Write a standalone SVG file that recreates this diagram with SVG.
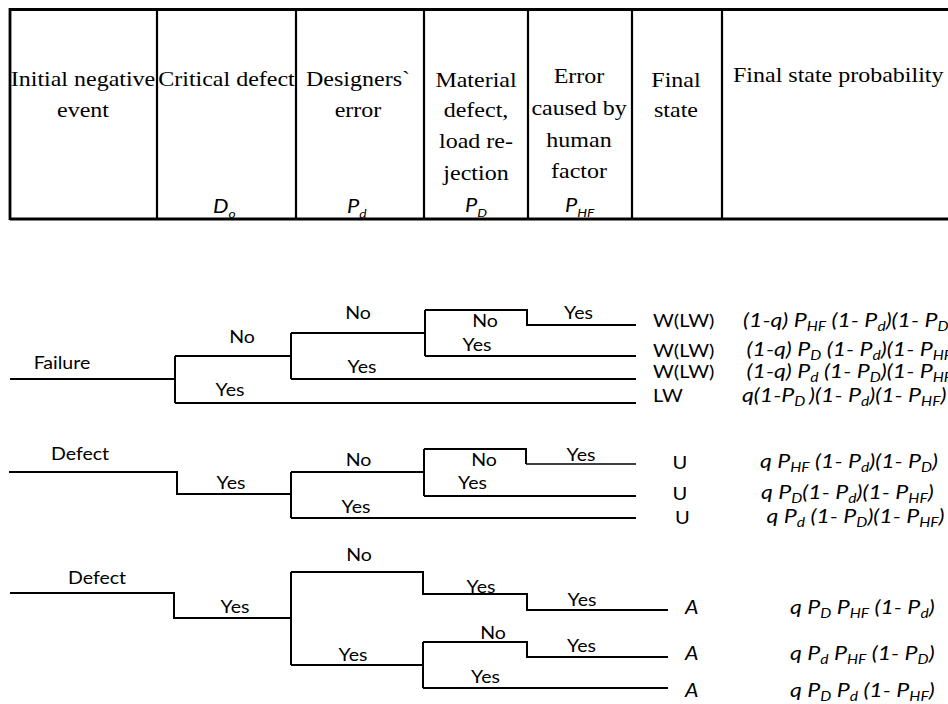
<svg xmlns="http://www.w3.org/2000/svg" width="948" height="704" viewBox="0 0 948 704">
<style>
.bg{fill:#fff}
.tl{stroke:#000;stroke-width:2.2;fill:none}
.tb{stroke:#000;stroke-width:2.8;fill:none}
.cn{stroke:#000;stroke-width:2;fill:none}
.thin{stroke:#000;stroke-width:1.4;fill:none}
.hd{font-family:'Liberation Serif','DejaVu Serif','Noto Serif',serif;font-size:20px;fill:#000;text-anchor:middle}
.hs{font-family:Lato,'Liberation Sans',sans-serif;font-style:italic;font-size:19px;fill:#000}
.lb{font-family:Lato,'Liberation Sans',sans-serif;font-size:17px;fill:#000;text-anchor:middle}
.st{font-family:Lato,'Liberation Sans',sans-serif;font-size:17.5px;fill:#000}
.fm{font-family:Lato,'Liberation Sans',sans-serif;font-style:italic;font-size:18.5px;fill:#000}
.sb{font-size:12.5px}
.hsb{font-size:12px}
</style>
<rect class="bg" x="0" y="0" width="948" height="704"/>

<g id="table">
  <path class="tb" d="M10 9.5 H948 M10 219 H948 M10 8 V220"/>
  <path class="tl" d="M157 9 V219 M296 9 V219 M424 9 V219 M528 9 V219 M632 9 V219 M722 9 V219"/>
</g>

<g id="header-text">
<g id="col-initial">
  <text class="hd" transform="translate(83 86) scale(1.2 1)">Initial negative</text>
  <text class="hd" transform="translate(83 117) scale(1.2 1)">event</text>
</g>
<g id="col-critical">
  <text class="hd" transform="translate(226.5 86) scale(1.2 1)">Critical defect</text>
  <text class="hs" transform="translate(213 213) scale(1.15 1)">D<tspan class="hsb" dy="5">o</tspan></text>
</g>
<g id="col-designers">
  <text class="hd" transform="translate(358 86) scale(1.2 1)">Designers`</text>
  <text class="hd" transform="translate(358 117) scale(1.2 1)">error</text>
  <text class="hs" transform="translate(347 213) scale(1.15 1)">P<tspan class="hsb" dy="5">d</tspan></text>
</g>
<g id="col-material">
  <text class="hd" transform="translate(476 86.5) scale(1.2 1)">Material</text>
  <text class="hd" transform="translate(476 117) scale(1.2 1)">defect,</text>
  <text class="hd" transform="translate(476 148) scale(1.2 1)">load re-</text>
  <text class="hd" transform="translate(476 180) scale(1.2 1)">jection</text>
  <text class="hs" transform="translate(465 212) scale(1.15 1)">P<tspan class="hsb" dy="5">D</tspan></text>
</g>
<g id="col-human">
  <text class="hd" transform="translate(579 82.5) scale(1.2 1)">Error</text>
  <text class="hd" transform="translate(579 115) scale(1.2 1)">caused by</text>
  <text class="hd" transform="translate(579 146.5) scale(1.2 1)">human</text>
  <text class="hd" transform="translate(579 178) scale(1.2 1)">factor</text>
  <text class="hs" transform="translate(565 212) scale(1.15 1)">P<tspan class="hsb" dy="5">HF</tspan></text>
</g>
<g id="col-final">
  <text class="hd" transform="translate(676 86.5) scale(1.2 1)">Final</text>
  <text class="hd" transform="translate(676 116.5) scale(1.2 1)">state</text>
</g>
<g id="col-probability">
  <text class="hd" style="text-anchor:start" transform="translate(733 81.5) scale(1.2 1)">Final state probability</text>
</g>
</g>

<g id="connectors">
  <path class="cn" d="M10 379 H175 M175 356 V403 M175 356 H291 M291 333 V379 M291 333 H425 M425 310 V356 M425 310 H527 V325 H636 M425 356 H636 M291 379 H636 M175 403 H636"/>
  <path class="cn" d="M9 472 H177 V494 H291 M291 472 V518 M291 472 H424 M424 449 V496 M424 449 H526 V464 M424 496 H636 M291 518 H636"/>
  <path class="thin" d="M526 464 H636"/>
  <path class="cn" d="M10 593 H174 V618 H291 M291 572 V665 M291 572 H423 V594 H527 V610 H668 M291 665 H423 M423 642 V688 M423 642 H527 V657 H668 M423 688 H668"/>
</g>

<g id="tree1-labels">
  <text class="lb" transform="translate(62 369) scale(1.15 1)">Failure</text>
  <text class="lb" transform="translate(242 343) scale(1.15 1)">No</text>
  <text class="lb" transform="translate(358 319) scale(1.15 1)">No</text>
  <text class="lb" transform="translate(485 327) scale(1.15 1)">No</text>
  <text class="lb" transform="translate(578.5 319) scale(1.15 1)">Yes</text>
  <text class="lb" transform="translate(477 351) scale(1.15 1)">Yes</text>
  <text class="lb" transform="translate(362 373) scale(1.15 1)">Yes</text>
  <text class="lb" transform="translate(230 396) scale(1.15 1)">Yes</text>
</g>
<g id="tree2-labels">
  <text class="lb" transform="translate(80 460) scale(1.15 1)">Defect</text>
  <text class="lb" transform="translate(231 489) scale(1.15 1)">Yes</text>
  <text class="lb" transform="translate(358.5 466) scale(1.15 1)">No</text>
  <text class="lb" transform="translate(484 466) scale(1.15 1)">No</text>
  <text class="lb" transform="translate(581 461) scale(1.15 1)">Yes</text>
  <text class="lb" transform="translate(472.5 489) scale(1.15 1)">Yes</text>
  <text class="lb" transform="translate(356 513) scale(1.15 1)">Yes</text>
</g>
<g id="tree3-labels">
  <text class="lb" transform="translate(97 584) scale(1.15 1)">Defect</text>
  <text class="lb" transform="translate(235 613) scale(1.15 1)">Yes</text>
  <text class="lb" transform="translate(359 561) scale(1.15 1)">No</text>
  <text class="lb" transform="translate(481 593) scale(1.15 1)">Yes</text>
  <text class="lb" transform="translate(582 606) scale(1.15 1)">Yes</text>
  <text class="lb" transform="translate(353 661) scale(1.15 1)">Yes</text>
  <text class="lb" transform="translate(493 639) scale(1.15 1)">No</text>
  <text class="lb" transform="translate(581.5 652) scale(1.15 1)">Yes</text>
  <text class="lb" transform="translate(485.5 683) scale(1.15 1)">Yes</text>
</g>

<g id="state-1"><text class="st" transform="translate(653 327) scale(1.15 1)">W(LW)</text><text class="fm" transform="translate(743 327) scale(1.25 1)">(1-q) P<tspan class="sb" dy="4">HF</tspan><tspan dy="-4"> (1- P</tspan><tspan class="sb" dy="4">d</tspan><tspan dy="-4">)(1- P</tspan><tspan class="sb" dy="4">D</tspan><tspan dy="-4">)</tspan></text></g>
<g id="state-2"><text class="st" transform="translate(653 356.5) scale(1.15 1)">W(LW)</text><text class="fm" transform="translate(746.5 356) scale(1.25 1)">(1-q) P<tspan class="sb" dy="4">D</tspan><tspan dy="-4"> (1- P</tspan><tspan class="sb" dy="4">d</tspan><tspan dy="-4">)(1- P</tspan><tspan class="sb" dy="4">HF</tspan><tspan dy="-4">)</tspan></text></g>
<g id="state-3"><text class="st" transform="translate(653 378) scale(1.15 1)">W(LW)</text><text class="fm" transform="translate(746.5 377.5) scale(1.25 1)">(1-q) P<tspan class="sb" dy="4">d</tspan><tspan dy="-4"> (1- P</tspan><tspan class="sb" dy="4">D</tspan><tspan dy="-4">)(1- P</tspan><tspan class="sb" dy="4">HF</tspan><tspan dy="-4">)</tspan></text></g>
<g id="state-4"><text class="st" transform="translate(653 402) scale(1.15 1)">LW</text><text class="fm" transform="translate(742 401.5) scale(1.25 1)">q(1-P<tspan class="sb" dy="4">D </tspan><tspan dy="-4">)(1- P</tspan><tspan class="sb" dy="4">d</tspan><tspan dy="-4">)(1- P</tspan><tspan class="sb" dy="4">HF</tspan><tspan dy="-4">)</tspan></text></g>

<g id="state-5"><text class="st" transform="translate(672.5 468.5) scale(1.15 1)">U</text><text class="fm" transform="translate(760 468) scale(1.25 1)">q P<tspan class="sb" dy="4">HF</tspan><tspan dy="-4"> (1- P</tspan><tspan class="sb" dy="4">d</tspan><tspan dy="-4">)(1- P</tspan><tspan class="sb" dy="4">D</tspan><tspan dy="-4">)</tspan></text></g>
<g id="state-6"><text class="st" transform="translate(672.5 499.5) scale(1.15 1)">U</text><text class="fm" transform="translate(761 499) scale(1.25 1)">q P<tspan class="sb" dy="4">D</tspan><tspan dy="-4">(1- P</tspan><tspan class="sb" dy="4">d</tspan><tspan dy="-4">)(1- P</tspan><tspan class="sb" dy="4">HF</tspan><tspan dy="-4">)</tspan></text></g>
<g id="state-7"><text class="st" transform="translate(675 523.5) scale(1.15 1)">U</text><text class="fm" transform="translate(766.5 523) scale(1.25 1)">q P<tspan class="sb" dy="4">d</tspan><tspan dy="-4"> (1- P</tspan><tspan class="sb" dy="4">D</tspan><tspan dy="-4">)(1- P</tspan><tspan class="sb" dy="4">HF</tspan><tspan dy="-4">)</tspan></text></g>

<g id="state-8"><text class="fm" transform="translate(685 614) scale(1.15 1)">A</text><text class="fm" transform="translate(790 614) scale(1.25 1)">q P<tspan class="sb" dy="4">D</tspan><tspan dy="-4"> P</tspan><tspan class="sb" dy="4">HF</tspan><tspan dy="-4"> (1- P</tspan><tspan class="sb" dy="4">d</tspan><tspan dy="-4">)</tspan></text></g>
<g id="state-9"><text class="fm" transform="translate(685 660) scale(1.15 1)">A</text><text class="fm" transform="translate(790 660) scale(1.25 1)">q P<tspan class="sb" dy="4">d</tspan><tspan dy="-4"> P</tspan><tspan class="sb" dy="4">HF</tspan><tspan dy="-4"> (1- P</tspan><tspan class="sb" dy="4">D</tspan><tspan dy="-4">)</tspan></text></g>
<g id="state-10"><text class="fm" transform="translate(685 697) scale(1.15 1)">A</text><text class="fm" transform="translate(790 697) scale(1.25 1)">q P<tspan class="sb" dy="4">D</tspan><tspan dy="-4"> P</tspan><tspan class="sb" dy="4">d</tspan><tspan dy="-4"> (1- P</tspan><tspan class="sb" dy="4">HF</tspan><tspan dy="-4">)</tspan></text></g>
</svg>
